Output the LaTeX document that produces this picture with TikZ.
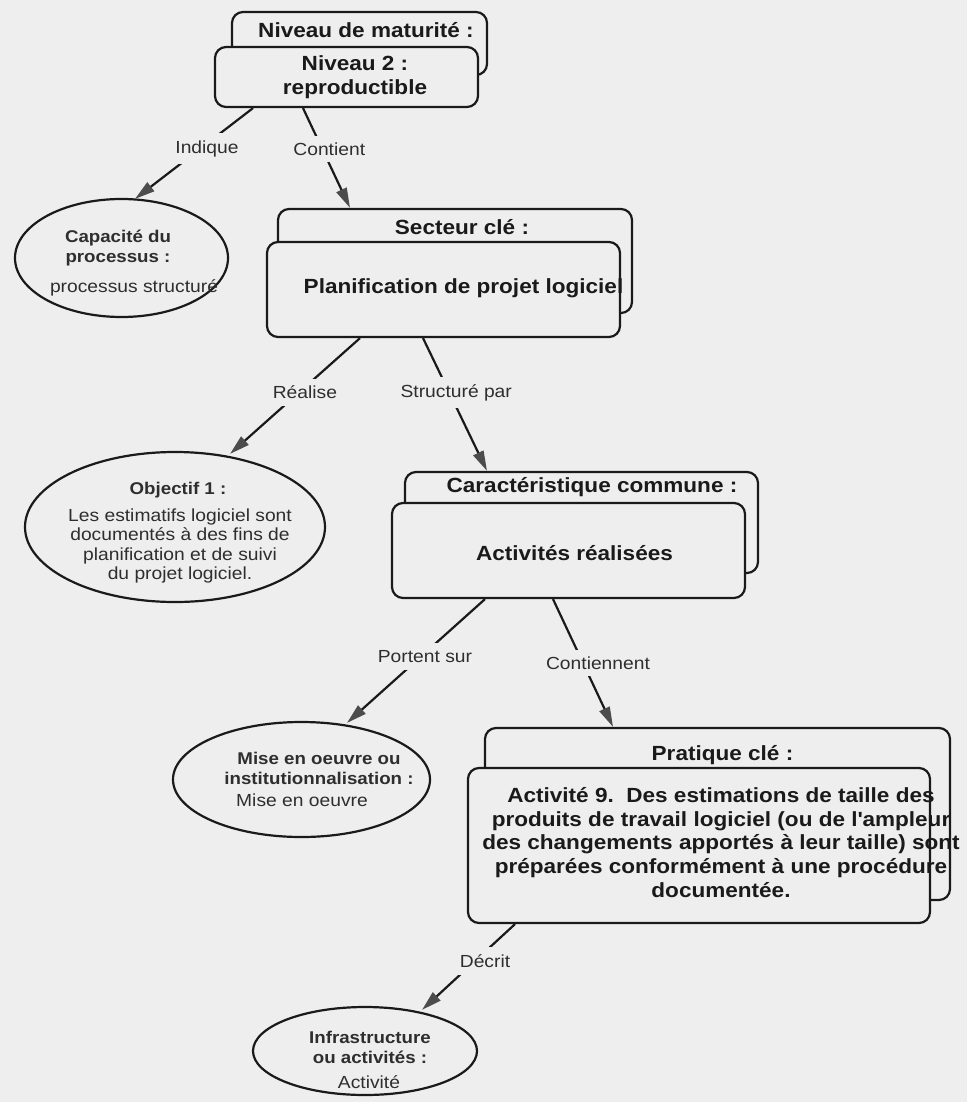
\documentclass[tikz,border=0pt]{standalone}
\usepackage{fontspec}
\setmainfont{Liberation Sans}[FakeStretch=1.1]
\usetikzlibrary{arrows.meta,shapes.geometric,calc}
\definecolor{bg}{HTML}{EEEEEE}
\definecolor{ink}{HTML}{1A1A1A}
\definecolor{soft}{HTML}{2E2E2E}
\begin{document}
\begin{tikzpicture}[x=1pt,y=-1pt,
 box/.style={draw=ink, line width=2.2pt, rounded corners=11pt, fill=bg, inner sep=0pt},
 ell/.style={draw=ink, line width=2.2pt, ellipse, fill=bg, inner sep=0pt},
 btitle/.style={font=\bfseries\fontsize{20.5}{24}\selectfont, text=ink, inner sep=0pt},
 btext/.style={font=\bfseries\fontsize{20.5}{23.8}\selectfont, text=ink, align=center, inner sep=0pt},
 etitle/.style={font=\bfseries\fontsize{17}{20}\selectfont, text=soft, align=center, inner sep=0pt},
 etext/.style={font=\fontsize{17.5}{19.4}\selectfont, text=soft, align=center, inner sep=0pt},
 lab/.style={font=\fontsize{17.5}{20}\selectfont, text=soft, fill=bg, inner xsep=3pt, inner ysep=7pt},
 conn/.style={draw=ink, line width=2.2pt, -{Triangle[length=20pt,width=11pt,color=black!70]}}
]
\fill[bg] (0,0) rectangle (967,1102);
\useasboundingbox (0,0) rectangle (967,1102);

% Box 1
\node[box, minimum width=255, minimum height=63] (b1b) at (359.5,43.5) {};
\node[btitle] (t1) at (366,30) {Niveau de maturité :};
\node[box, minimum width=263, minimum height=60] (b1f) at (346.5,77) {};
\node[btext] (x1) at (355,77.5) {Niveau 2 :\\reproductible};

% Box 2
\node[box, minimum width=354, minimum height=104] (b2b) at (455,261) {};
\node[btitle] (t2) at (462,227) {Secteur clé :};
\node[box, minimum width=353, minimum height=95] (b2f) at (443.5,289.5) {};
\node[btext] (x2) at (463.5,288) {Planification de projet logiciel};

% Box 3
\node[box, minimum width=353, minimum height=101] (b3b) at (581.5,522.5) {};
\node[btitle] (t3) at (592,487) {Caractéristique commune :};
\node[box, minimum width=353, minimum height=95] (b3f) at (568.5,550.5) {};
\node[btext] (x3) at (574.5,553) {Activités réalisées};

% Box 4
\node[box, minimum width=465, minimum height=172] (b4b) at (717.5,814) {};
\node[btitle] (t4) at (722.5,755) {Pratique clé :};
\node[box, minimum width=462, minimum height=155] (b4f) at (699,845.5) {};
\node[btext] (x4) at (721,842.5) {Activité 9.\ \ Des estimations de taille des\\produits de travail logiciel (ou de l\textquotesingle ampleur\\des changements apportés à leur taille) sont\\préparées conformément à une procédure\\documentée.};

% Ellipses
\node[ell, minimum width=213, minimum height=118] (cap) at (121.5,258) {};
\node[etitle] (cap1) at (118,248) {Capacité du\\processus :};
\node[etext] (cap2) at (134,288) {processus structuré};

\node[ell, minimum width=300, minimum height=150] (obj) at (175,527) {};
\node[etitle] (obj1) at (178,490) {Objectif 1 :};
\node[etext] (obj2) at (180,546) {Les estimatifs logiciel sont\\documentés à des fins de\\planification et de suivi\\du projet logiciel.};

\node[ell, minimum width=257, minimum height=115] (mise) at (301.5,779.5) {};
\node[etitle] (mise1) at (319,768) {Mise en oeuvre ou\\institutionnalisation :};
\node[etext] (mise2) at (302,800) {Mise en oeuvre};

\node[ell, minimum width=224, minimum height=88] (infra) at (365,1051) {};
\node[etitle] (infra1) at (370,1047.5) {Infrastructure\\ou activités :};
\node[etext] (infra2) at (369,1082) {Activité};

% Connectors
\draw[conn] ($(b1f.south)+(-93.5,0)$) -- ($(cap.north)+(13.5,1)$)
  node[lab, pos=0.445, xshift=6.5pt] (l1) {Indique};
\draw[conn] ($(b1f.south)+(-43.5,0)$) -- ($(b2b.north)+(-105,0)$)
  node[lab, pos=0.41, xshift=7pt] (l2) {Contient};
\draw[conn] ($(b2f.south)+(-83.5,0)$) -- ($(obj.north)+(55,3)$)
  node[lab, pos=0.47, xshift=6pt] (l3) {Réalise};
\draw[conn] ($(b2f.south)+(-20.5,0)$) -- ($(b3b.north)+(-94.5,0)$)
  node[lab, pos=0.41, xshift=7pt] (l4) {Structuré par};
\draw[conn] ($(b3f.south)+(-83.5,0)$) -- ($(mise.north)+(45.5,2)$)
  node[lab, pos=0.464, xshift=4pt] (l5) {Portent sur};
\draw[conn] ($(b3f.south)+(-15.5,0)$) -- ($(b4b.north)+(-104.5,0)$)
  node[lab, pos=0.5, xshift=15pt] (l6) {Contiennent};
\draw[conn] ($(b4f.south)+(-184,0)$) -- ($(infra.north)+(57,4)$)
  node[lab, pos=0.43, xshift=10pt] (l7) {Décrit};
\end{tikzpicture}
\end{document}
